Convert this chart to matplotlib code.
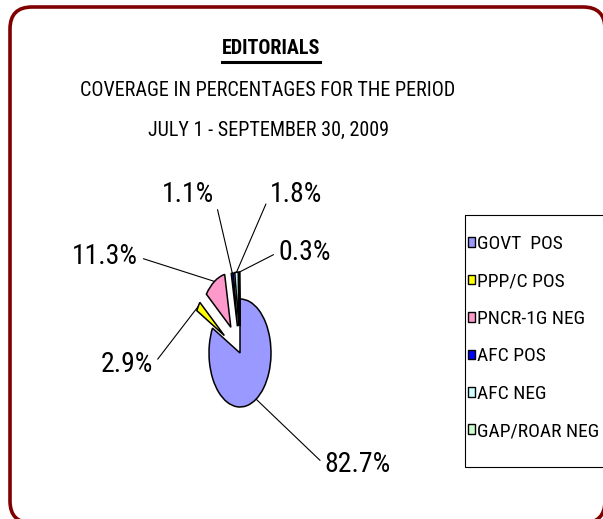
import matplotlib
matplotlib.use('Agg')
import matplotlib.pyplot as plt
import numpy as np
from matplotlib.patches import FancyBboxPatch, Rectangle
from matplotlib.lines import Line2D

plt.rcParams['font.family'] = ['Roboto Condensed', 'DejaVu Sans']

# data
categories = ['GOVT  POS', 'PPP/C POS', 'PNCR-1G NEG', 'AFC POS', 'AFC NEG', 'GAP/ROAR NEG']
values = [82.7, 2.9, 11.3, 1.1, 1.8, 0.3]
value_labels = ['82.7%', '2.9%', '11.3%', '1.1%', '1.8%', '0.3%']
colors = ['#9999FF', '#FFFF00', '#FF99CC', '#0000FF', '#CCFFFF', '#CCFFCC']
explode = [0, 0.6, 0.56, 0.5, 0.5, 0.5]

# label positions in pixels (x, y from top) and which side the leader leaves
label_pos = [(358, 465), (127, 365), (105, 257), (188, 195), (296, 195), (305, 252)]
label_side = [0, 1, 1, 1, 0, 0]

W, H = 603, 519
fig = plt.figure(figsize=(W / 100, H / 100), dpi=100)

# background axes in pixel coordinates
bg = fig.add_axes([0, 0, 1, 1])
bg.set_xlim(0, W)
bg.set_ylim(H, 0)
bg.axis('off')

# rounded chart-area border, partly running off the right and bottom edges
border = FancyBboxPatch((10, 7), 595, 516, boxstyle='round,pad=0,rounding_size=22',
                        facecolor='white', edgecolor='#800000', linewidth=2.6)
bg.add_patch(border)

# titles
t1 = bg.text(271, 48, 'EDITORIALS', ha='center', va='center', fontsize=14.5, fontweight='bold')
bg.text(268, 90, 'COVERAGE IN PERCENTAGES FOR THE PERIOD', ha='center', va='center', fontsize=14.5)
bg.text(268, 130, 'JULY 1 - SEPTEMBER 30, 2009', ha='center', va='center', fontsize=14.5)

# pie axes: squashed horizontally like the original
cx, cy, rx, ry = 240, 353, 31, 54
ax = fig.add_axes([(cx - rx) / W, (H - cy - ry) / H, 2 * rx / W, 2 * ry / H])
wedges, _ = ax.pie(values, colors=colors, startangle=90, counterclock=False, explode=explode,
                   wedgeprops=dict(edgecolor='black', linewidth=1.1, clip_on=False))
ax.set_aspect('auto')
ax.set_xlim(-1, 1)
ax.set_ylim(-1, 1)
ax.axis('off')

for w, lab, pos, side in zip(wedges, value_labels, label_pos, label_side):
    ang = np.deg2rad((w.theta1 + w.theta2) / 2)
    px = w.center[0] + w.r * np.cos(ang)
    py = w.center[1] + w.r * np.sin(ang)
    ax.annotate(lab, xy=(px, py), xycoords='data', xytext=pos, textcoords=bg.transData,
                ha='center', va='center', fontsize=20, annotation_clip=False,
                arrowprops=dict(arrowstyle='-', color='black', lw=0.8, shrinkA=2, shrinkB=0,
                                relpos=(side, 0.5)))

# legend box (runs off the right edge like the original)
bg.add_patch(Rectangle((465, 215), 160, 252, facecolor='none', edgecolor='black', linewidth=0.8))
leg = fig.legend(wedges, categories, loc='upper left',
                 bbox_to_anchor=(468 / W, (H - 235) / H),
                 fontsize=14, frameon=False, handlelength=0.38, handleheight=0.38,
                 handletextpad=0.06, labelspacing=1.0, borderpad=0, borderaxespad=0)
for h in leg.legend_handles:
    h.set_edgecolor('black')
    h.set_linewidth(1.0)

fig.canvas.draw()
bb = t1.get_window_extent().transformed(bg.transData.inverted())
bg.add_line(Line2D([bb.x0, bb.x1], [62, 62], color='black', lw=2.2))

fig.savefig('out.png', dpi=100)
